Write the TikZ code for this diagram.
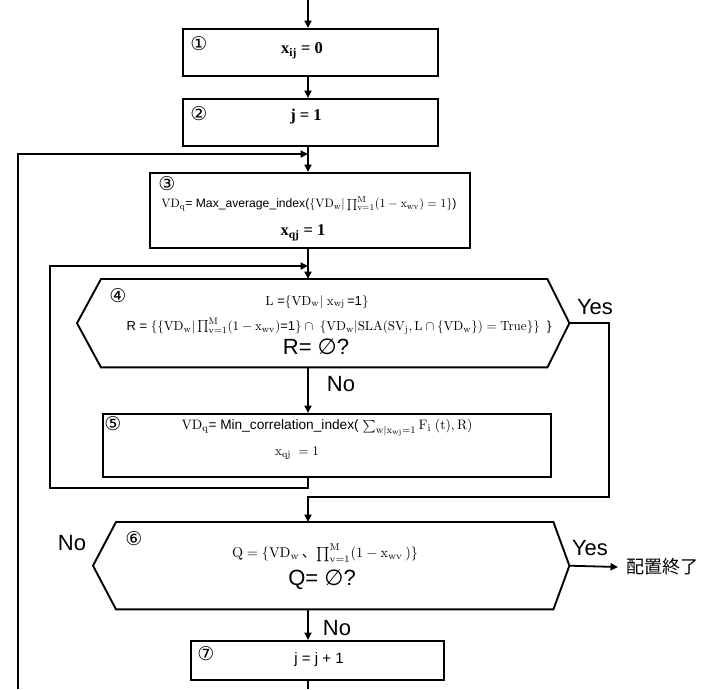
\documentclass[tikz,border=0pt]{standalone}
\usepackage[no-math]{fontspec}
\setmainfont{Liberation Sans}
\newfontfamily\symf{DejaVu Sans}
\newfontfamily\serf{Liberation Serif}
\newfontfamily\jpf{Noto Sans CJK JP}
\usetikzlibrary{arrows.meta,calc}
\begin{document}
\begin{tikzpicture}[x=1pt,y=-1pt,
  box/.style={draw, line width=1.9pt, inner sep=0pt, anchor=north west},
  hexr/.style={inner sep=0pt, anchor=north west},
  hexl/.style={line width=1.9pt, line join=miter},
  ln/.style={line width=1.8pt},
  arr/.style={ln, -{Triangle[length=7.5pt,width=7pt]}},
  num/.style={font=\symf\fontsize{19}{19}\selectfont, inner sep=0pt},
  mt/.style={font=\fontsize{10.95}{13}\selectfont, inner sep=0pt},
  bmt/.style={font=\serf\bfseries\fontsize{16.5}{18}\selectfont, inner sep=0pt},
  big/.style={font=\fontsize{22}{24}\selectfont, inner sep=0pt},
  lbl/.style={font=\fontsize{22}{24}\selectfont, inner sep=0pt},
]
\useasboundingbox (0,0) rectangle (701,689);

% column coordinate
\coordinate (col) at (308,0);
\coordinate (top) at (308,0);

% box 1
\node[box, minimum width=255pt, minimum height=47pt] (b1) at (182,28) {};
\node[num] (n1) at (199,44) {①};
\node[bmt] (t1) at (302,51) {x\textsubscript{ij} = 0};

% box 2
\node[box, minimum width=255pt, minimum height=47pt] (b2) at (182,98) {};
\node[num] (n2) at (199,114) {②};
\node[bmt] (t2) at (306,117) {j = 1};

% box 3
\node[box, minimum width=320pt, minimum height=75pt] (b3) at (149,172) {};
\node[num] (n3) at (167,184) {③};
\node[mt, scale=1.11] (t3a) at (309,204) {$\mathrm{VD_q}$= Max\_average\_index($\{\mathrm{VD_w}|\prod_{\mathrm{v}=1}^{\mathrm{M}}(1-\mathrm{x_{wv}})=1\}$)};
\node[bmt] (t3b) at (303,233) {x\textsubscript{qj} = 1};

% hexagon 4
\node[hexr, minimum width=446pt, minimum height=88pt] (h4) at (101,279) {};
\coordinate (h4e) at ([xshift=22pt]h4.east);
\coordinate (h4w) at ([xshift=-24pt]h4.west);
\draw[hexl] (h4.north west) -- (h4.north east) -- (h4e) -- (h4.south east) -- (h4.south west) -- (h4w) -- cycle;
\node[num] (n4) at (118,296) {④};
\node[mt, scale=1.2] (t4a) at (317,302) {$\mathrm{L}$ =$\{\mathrm{VD_w}|\ \mathrm{x_{wj}}$\,=1$\}$};
\node[mt, scale=1.19] (t4b) at (339,326) {R = $\{\{\mathrm{VD_w}|\prod_{\mathrm{v}=1}^{\mathrm{M}}(1-\mathrm{x_{wv}})$=1$\}\cap\ \{\mathrm{VD_w}|\mathrm{SLA}\bigl(\mathrm{SV_j},\mathrm{L}\cap\{\mathrm{VD_w}\}\bigr)=\mathrm{True}\}\}$\ \ \}};
\node[big] (t4c) at (316,347) {R= {\symf ∅}?};

% box 5
\node[box, minimum width=448pt, minimum height=63pt] (b5) at (102,413) {};
\node[num] (n5) at (113,424) {⑤};
\node[mt, scale=1.25] (t5a) at (327,428) {$\mathrm{VD_q}$= Min\_correlation\_index( $\sum_{\mathrm{w}|\mathrm{x_{wj}}=1}\mathrm{F_i}\ (\mathrm{t}),\mathrm{R})$};
\node[mt, scale=1.2] (t5b) at (297,453) {$\mathrm{x_{qj}}\ =1$};

% hexagon 6
\node[hexr, minimum width=437pt, minimum height=87pt] (h6) at (116,522) {};
\coordinate (h6e) at ([xshift=16pt]h6.east);
\coordinate (h6w) at ([xshift=-23pt]h6.west);
\draw[hexl] (h6.north west) -- (h6.north east) -- (h6e) -- (h6.south east) -- (h6.south west) -- (h6w) -- cycle;
\node[num] (n6) at (134,539) {⑥};
\node[mt, font=\fontsize{10}{11}\selectfont, scale=1.42] (t6a) at (325,553) {$\mathrm{Q}=\{\mathrm{VD_w}$\,\mbox{\jpf 、}$\prod_{\mathrm{v}=1}^{\mathrm{M}}(1-\mathrm{x_{wv}}\,)\}$};
\node[big] (t6b) at (322,580) {Q= {\symf ∅}?};

% box 7
\node[box, minimum width=253pt, minimum height=39pt] (b7) at (190,640) {};
\node[num] (n7) at (206,654) {⑦};
\node[mt, font=\fontsize{15}{17}\selectfont] (t7) at (319,660) {j = j + 1};

% end node
\node[anchor=west, inner xsep=8pt, inner ysep=0pt, font=\jpf\fontsize{18}{18}\selectfont] (fin) at (618,567) {配置終了};

% labels
\node[lbl] (yes4) at (595,307) {Yes};
\node[lbl] (no4) at (341,384) {No};
\node[lbl] (yes6) at (590,548) {Yes};
\node[lbl] (no6l) at (72,543) {No};
\node[lbl] (no6) at (337,628) {No};

% loop coordinates
\coordinate (lp1b) at (18,689);
\coordinate (lp1t) at (18,154);
\coordinate (lp2b) at (50,488);
\coordinate (lp2t) at (50,266);
\coordinate (yesc) at (609,497);
\coordinate (bot) at (308,689);

% connectors
\draw[arr] (top) -- (col |- b1.north);
\draw[arr] (col |- b1.south) -- (col |- b2.north);
\draw[arr] (col |- b2.south) -- (col |- b3.north);
\draw[arr] (lp1b) -- (lp1t) -- (col |- lp1t);
\draw[arr] (col |- b3.south) -- (col |- h4.north);
\draw[arr] (col |- h4.south) -- (col |- b5.north);
\draw[arr] (col |- b5.south) |- (lp2b) -- (lp2t) -- (col |- lp2t);
\draw[arr] (h4e) -| (yesc) -- (col |- yesc) -- (col |- h6.north);
\draw[arr] (h6e) -- (fin.west);
\draw[arr] (col |- h6.south) -- (col |- b7.north);
\draw[ln] (col |- b7.south) -- (bot);
\end{tikzpicture}
\end{document}
